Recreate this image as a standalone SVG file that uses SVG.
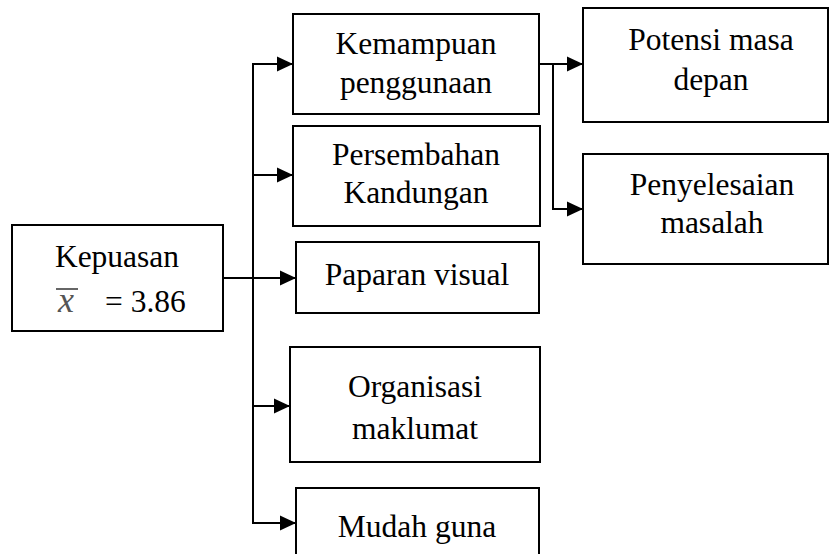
<svg xmlns="http://www.w3.org/2000/svg" width="830" height="554" viewBox="0 0 830 554">
<style>
.box{fill:#fff;stroke:#000;stroke-width:2}
.t{font-family:"Liberation Serif","Times New Roman",serif;font-size:31.5px;fill:#000;text-anchor:middle}
.c{fill:none;stroke:#000;stroke-width:2}
</style>
<defs>
<marker id="ah" markerUnits="userSpaceOnUse" markerWidth="17" markerHeight="16" refX="16" refY="8" orient="auto">
<path d="M0,0.5 L16,8 L0,15.5 z" fill="#000"/>
</marker>
</defs>
<rect width="830" height="554" fill="#fff"/>
<g id="connectors">
<line class="c" x1="223" y1="278" x2="296" y2="278" marker-end="url(#ah)"/>
<line class="c" x1="253" y1="63" x2="253" y2="524"/>
<line class="c" x1="252" y1="64" x2="293" y2="64" marker-end="url(#ah)"/>
<line class="c" x1="253" y1="175" x2="293" y2="175" marker-end="url(#ah)"/>
<line class="c" x1="253" y1="406" x2="290" y2="406" marker-end="url(#ah)"/>
<line class="c" x1="252" y1="523" x2="296" y2="523" marker-end="url(#ah)"/>
<line class="c" x1="539" y1="64" x2="583" y2="64" marker-end="url(#ah)"/>
<line class="c" x1="553" y1="64" x2="553" y2="210"/>
<line class="c" x1="552" y1="209" x2="583" y2="209" marker-end="url(#ah)"/>
</g>
<g id="kepuasan">
<rect class="box" x="12" y="225" width="211" height="106"/>
<text class="t" x="117" y="267">Kepuasan</text>
<text x="66" y="312" style="font-family:'Liberation Serif',serif;font-size:36px;font-style:italic;fill:#555;text-anchor:middle">x</text>
<line x1="56" y1="289" x2="78" y2="289" stroke="#666" stroke-width="2"/>
<text class="t" x="105" y="312" style="text-anchor:start">= 3.86</text>
</g>
<g id="kemampuan">
<rect class="box" x="293" y="14" width="246" height="100"/>
<text class="t" x="416" y="54">Kemampuan</text>
<text class="t" x="416" y="93">penggunaan</text>
</g>
<g id="persembahan">
<rect class="box" x="293" y="126" width="247" height="100"/>
<text class="t" x="416" y="165">Persembahan</text>
<text class="t" x="416" y="203">Kandungan</text>
</g>
<g id="paparan">
<rect class="box" x="296" y="242" width="243" height="71"/>
<text class="t" x="417" y="285">Paparan visual</text>
</g>
<g id="organisasi">
<rect class="box" x="290" y="347" width="250" height="115"/>
<text class="t" x="415" y="397">Organisasi</text>
<text class="t" x="415" y="439">maklumat</text>
</g>
<g id="mudah">
<rect class="box" x="296" y="488" width="243" height="80"/>
<text class="t" x="417" y="537">Mudah guna</text>
</g>
<g id="potensi">
<rect class="box" x="583" y="8" width="245" height="114"/>
<text class="t" x="711" y="50">Potensi masa</text>
<text class="t" x="711" y="90">depan</text>
</g>
<g id="penyelesaian">
<rect class="box" x="583" y="154" width="245" height="110"/>
<text class="t" x="712" y="195">Penyelesaian</text>
<text class="t" x="712" y="233">masalah</text>
</g>
</svg>
